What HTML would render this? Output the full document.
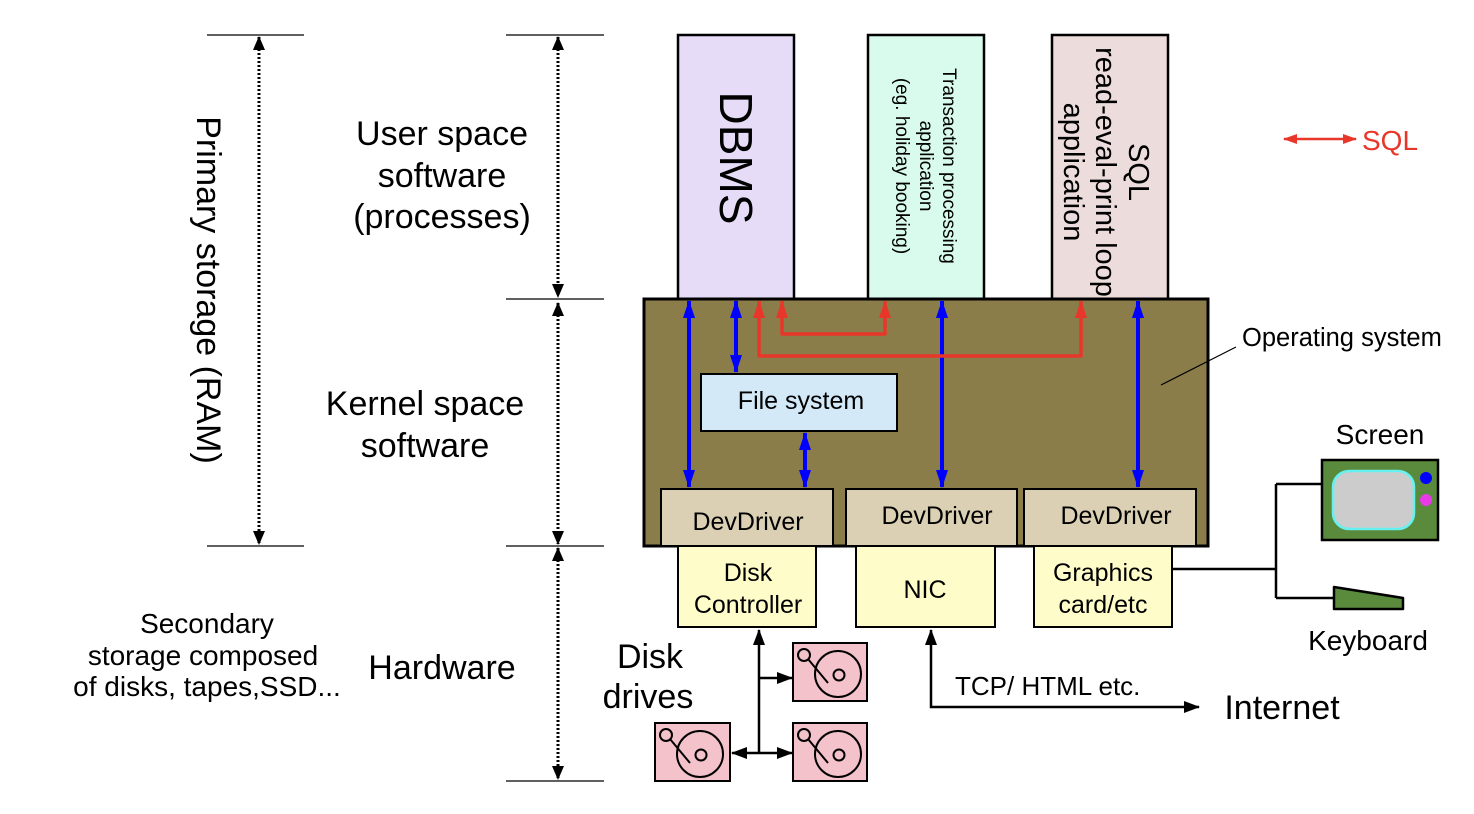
<!DOCTYPE html>
<html><head><meta charset="utf-8"><style>body{margin:0;background:#fff}svg{display:block}text{font-family:"Liberation Sans",Arial,sans-serif}</style></head><body>
<svg width="1474" height="814" viewBox="0 0 1474 814" xmlns="http://www.w3.org/2000/svg">
<defs>
<marker id="ak" markerWidth="14" markerHeight="12" refX="13" refY="6" orient="auto-start-reverse" markerUnits="userSpaceOnUse" viewBox="0 0 14 12"><path d="M0,0 L14,6 L0,12z" fill="#000"/></marker>
<marker id="ak2" markerWidth="16" markerHeight="12" refX="15" refY="6" orient="auto-start-reverse" markerUnits="userSpaceOnUse" viewBox="0 0 16 12"><path d="M0,0 L16,6 L0,12z" fill="#000"/></marker>
<marker id="ab" markerWidth="18" markerHeight="12" refX="17" refY="6" orient="auto-start-reverse" markerUnits="userSpaceOnUse" viewBox="0 0 18 12"><path d="M0,0 L18,6 L0,12z" fill="#0000ff"/></marker>
<marker id="ar" markerWidth="18" markerHeight="12" refX="17" refY="6" orient="auto-start-reverse" markerUnits="userSpaceOnUse" viewBox="0 0 18 12"><path d="M0,0 L18,6 L0,12z" fill="#e8372a"/></marker>
<marker id="ar2" markerWidth="14" markerHeight="10" refX="13" refY="5" orient="auto-start-reverse" markerUnits="userSpaceOnUse" viewBox="0 0 14 10"><path d="M0,0 L14,5 L0,10z" fill="#e8372a"/></marker>
</defs>
<g stroke="#000" stroke-width="1.3">
<line x1="207" y1="35" x2="304" y2="35"/><line x1="207" y1="546" x2="304" y2="546"/>
<line x1="506" y1="35" x2="604" y2="35"/><line x1="506" y1="299" x2="604" y2="299"/>
<line x1="506" y1="546" x2="604" y2="546"/><line x1="506" y1="781" x2="604" y2="781"/>
</g>
<g stroke="#000" stroke-width="3" stroke-dasharray="2,2" fill="none">
<line x1="259" y1="37" x2="259" y2="544" marker-start="url(#ak)" marker-end="url(#ak)"/>
<line x1="558" y1="37" x2="558" y2="297" marker-start="url(#ak)" marker-end="url(#ak)"/>
<line x1="558" y1="303" x2="558" y2="544" marker-start="url(#ak)" marker-end="url(#ak)"/>
<line x1="558" y1="548" x2="558" y2="779" marker-start="url(#ak)" marker-end="url(#ak)"/>
</g>
<text transform="translate(197,290) rotate(90)" font-size="34" text-anchor="middle">Primary storage (RAM)</text>
<g font-size="34" text-anchor="middle">
<text x="442" y="145">User space</text><text x="442" y="187">software</text><text x="442" y="228">(processes)</text>
<text x="425" y="415">Kernel space</text><text x="425" y="457">software</text>
<text x="442" y="679">Hardware</text>
</g>
<g font-size="28" text-anchor="middle">
<text x="207" y="633">Secondary</text><text x="203" y="665">storage composed</text><text x="207" y="696">of disks, tapes,SSD...</text>
</g>
<g stroke="#000" stroke-width="2.5">
<rect x="678" y="35" width="116" height="264" fill="#e6dcf8"/>
<rect x="868" y="35" width="116" height="264" fill="#d8fbee"/>
<rect x="1052" y="35" width="116" height="264" fill="#ecdcdc"/>
</g>
<text transform="translate(720,158) rotate(90)" font-size="46" text-anchor="middle">DBMS</text>
<g font-size="19" text-anchor="middle">
<text transform="translate(943,166) rotate(90)">Transaction processing</text>
<text transform="translate(920,166) rotate(90)">application</text>
<text transform="translate(896,166) rotate(90)">(eg. holiday booking)</text>
</g>
<g font-size="29" text-anchor="middle">
<text transform="translate(1129,172) rotate(90)">SQL</text>
<text transform="translate(1096,172) rotate(90)">read-eval-print loop</text>
<text transform="translate(1064,172) rotate(90)">application</text>
</g>
<rect x="644" y="299" width="564" height="247" fill="#8b7d4a" stroke="#000" stroke-width="3"/>
<rect x="701" y="374" width="196" height="57" fill="#d3e9f8" stroke="#000" stroke-width="2"/>
<text x="801" y="409" font-size="25" text-anchor="middle">File system</text>
<g stroke="#000" stroke-width="2" fill="#dbd0b3">
<rect x="661" y="489" width="172" height="57"/><rect x="846" y="489" width="171" height="57"/><rect x="1024" y="489" width="172" height="57"/>
</g>
<g font-size="25" text-anchor="middle">
<text x="748" y="530">DevDriver</text><text x="937" y="524">DevDriver</text><text x="1116" y="524">DevDriver</text>
</g>
<g stroke="#000" stroke-width="2" fill="#fefcc8">
<rect x="678" y="546" width="138" height="81"/><rect x="856" y="546" width="139" height="81"/><rect x="1034" y="546" width="138" height="81"/>
</g>
<g font-size="25" text-anchor="middle">
<text x="748" y="581">Disk</text><text x="748" y="613">Controller</text>
<text x="925" y="598">NIC</text>
<text x="1103" y="581">Graphics</text><text x="1103" y="613">card/etc</text>
</g>
<g stroke="#0000ff" stroke-width="4" fill="none">
<line x1="689" y1="301" x2="689" y2="487" marker-start="url(#ab)" marker-end="url(#ab)"/>
<line x1="736" y1="301" x2="736" y2="372" marker-start="url(#ab)" marker-end="url(#ab)"/>
<line x1="805" y1="433" x2="805" y2="487" marker-start="url(#ab)" marker-end="url(#ab)"/>
<line x1="942" y1="301" x2="942" y2="487" marker-start="url(#ab)" marker-end="url(#ab)"/>
<line x1="1138" y1="301" x2="1138" y2="487" marker-start="url(#ab)" marker-end="url(#ab)"/>
</g>
<g stroke="#e8372a" stroke-width="3.5" fill="none" stroke-linejoin="round">
<path d="M759,301 L759,356 L1081,356 L1081,301" marker-start="url(#ar)" marker-end="url(#ar)"/>
<path d="M782,301 L782,334 L885,334 L885,301" marker-start="url(#ar)" marker-end="url(#ar)"/>
</g>
<line x1="1236" y1="347" x2="1161" y2="385" stroke="#000" stroke-width="1.2"/>
<text x="1242" y="346" font-size="25.5">Operating system</text>
<line x1="1284" y1="139" x2="1356" y2="139" stroke="#e8372a" stroke-width="2.5" marker-start="url(#ar2)" marker-end="url(#ar2)"/>
<text x="1362" y="150" font-size="28" fill="#e8372a">SQL</text>
<g stroke="#000" stroke-width="2.5" fill="none">
<line x1="759" y1="753" x2="759" y2="630" marker-end="url(#ak2)"/>
<line x1="759" y1="678" x2="792" y2="678" marker-end="url(#ak2)"/>
<line x1="732" y1="753" x2="792" y2="753" marker-start="url(#ak2)" marker-end="url(#ak2)"/>
<path d="M931,630 L931,707 L1199,707" marker-start="url(#ak2)" marker-end="url(#ak2)"/>
<path d="M1172,569 L1276,569 M1276,484 L1276,598 M1276,484 L1322,484 M1276,598 L1335,598"/>
</g>
<g font-size="34" text-anchor="middle"><text x="650" y="668">Disk</text><text x="648" y="708">drives</text><text x="1282" y="719">Internet</text></g>
<text x="955" y="695" font-size="26">TCP/ HTML etc.</text>
<g stroke="#000" stroke-width="2" fill="none">
<g transform="translate(793,643)"><rect width="74" height="58" fill="#f4c2cb"/><circle cx="45" cy="31" r="23"/><circle cx="46" cy="32" r="5.5"/><circle cx="11" cy="12" r="6"/><line x1="15" y1="16" x2="35" y2="40"/></g>
<g transform="translate(793,723)"><rect width="74" height="58" fill="#f4c2cb"/><circle cx="45" cy="31" r="23"/><circle cx="46" cy="32" r="5.5"/><circle cx="11" cy="12" r="6"/><line x1="15" y1="16" x2="35" y2="40"/></g>
<g transform="translate(655,723)"><rect width="75" height="58" fill="#f4c2cb"/><circle cx="45" cy="31" r="23"/><circle cx="46" cy="32" r="5.5"/><circle cx="11" cy="12" r="6"/><line x1="15" y1="16" x2="35" y2="40"/></g>
</g>
<rect x="1322" y="460" width="116" height="80" fill="#5a8a3c" stroke="#000" stroke-width="2.5"/>
<rect x="1333" y="471" width="81" height="58" rx="16" fill="#cccccc" stroke="#66f0f0" stroke-width="2.5"/>
<circle cx="1426" cy="478" r="6" fill="#0000ff"/><circle cx="1426" cy="500" r="6" fill="#e83ae8"/>
<path d="M1334,587 L1403,598 L1403,609 L1334,609 Z" fill="#5a8a3c" stroke="#000" stroke-width="2.5" stroke-linejoin="round"/>
<g font-size="28" text-anchor="middle"><text x="1380" y="444">Screen</text><text x="1368" y="650">Keyboard</text></g>
</svg>
</body></html>
